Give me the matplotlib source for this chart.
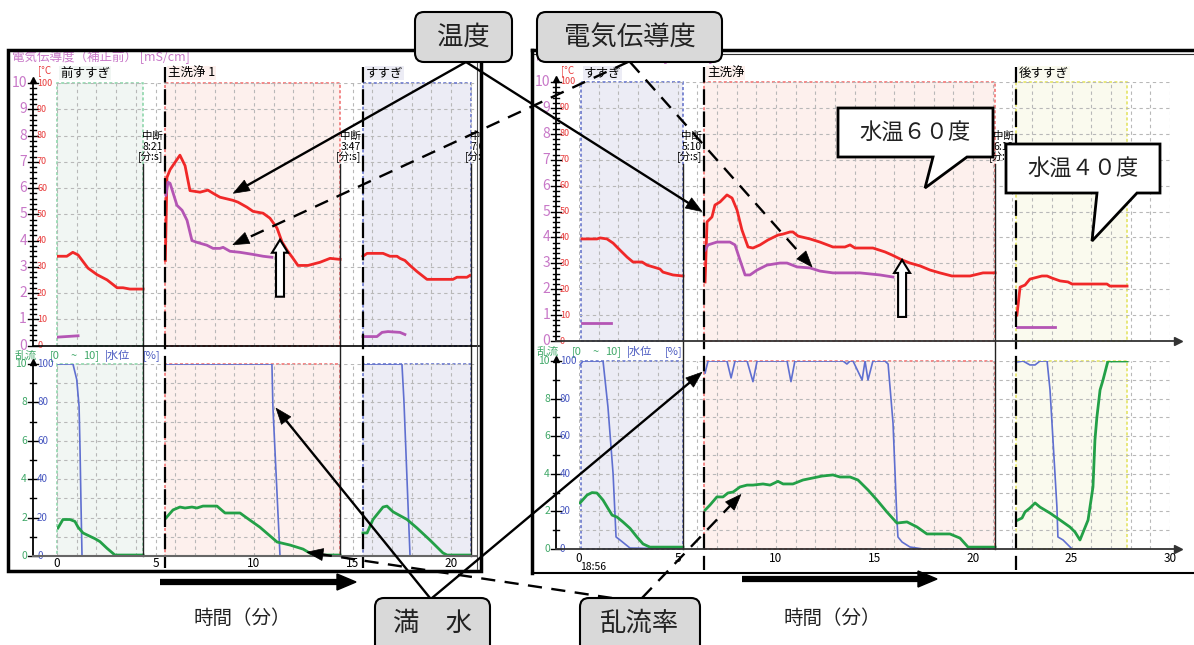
import numpy as np
import matplotlib
matplotlib.use("Agg")
import matplotlib.pyplot as plt
from matplotlib.patches import Rectangle, FancyBboxPatch, Polygon
from matplotlib.transforms import blended_transform_factory as blend

plt.rcParams['font.family'] = ['Noto Sans CJK JP', 'DejaVu Sans']

# ======================= run A (left recorder screen) =======================
A_phase_names = ["前すすぎ", "主洗浄 1", "すすぎ"]
A_phase_kind = ["green", "red", "blue"]
A_phase_start = [0.0, 5.48, 15.53]
A_phase_end = [4.37, 14.37, 21.0]
A_break_times = ["8:21", "3:47", "7:05"]
A_next_start = [5.48, 15.53, 22.1]

# temperature [°C] and conductivity [mS/cm]
A_pre_temp_t = [0.05, 0.5, 0.8, 1.07, 1.57, 2.03, 2.54, 3.05, 3.35, 3.7, 4.37]
A_pre_temp = [34, 34, 35.5, 34.5, 29.5, 27, 25, 22, 22, 21.5, 21.5]
A_pre_cond_t = [0.05, 1.07]
A_pre_cond = [0.32, 0.37]

A_main_temp_t = [5.5, 5.58, 5.74, 6.24, 6.5, 6.75, 7.26, 7.66, 7.92, 8.27, 8.93, 9.19,
                 9.64, 9.95, 10.46, 10.81, 11.17, 11.42, 11.68, 11.98, 12.23, 12.74,
                 13.35, 13.86, 14.37]
A_main_temp = [32.4, 64, 67, 72.5, 68.5, 59, 58.4, 59.2, 58, 56.5, 55.3, 54.6,
               52.7, 51.1, 50.4, 48.5, 44.7, 39.5, 36.3, 33.2, 30.5, 30.5,
               31.7, 33.2, 32.8]
A_main_cond_t = [5.53, 5.63, 5.74, 6.09, 6.35, 6.6, 6.85, 7.1, 7.61, 7.92, 8.27, 8.43,
                 8.78, 9.29, 9.95, 10.46, 10.91]
A_main_cond = [5.73, 6.22, 6.18, 5.34, 5.15, 4.77, 4.0, 3.93, 3.82, 3.7, 3.7, 3.74,
               3.59, 3.55, 3.47, 3.4, 3.36]

A_rin_temp_t = [15.53, 15.74, 16.55, 16.9, 17.26, 17.41, 17.66, 17.92, 18.27, 18.78,
                20.1, 20.3, 20.81, 20.96]
A_rin_temp = [34, 35.1, 35.1, 34, 34, 33.2, 32.4, 30.5, 28.2, 25.2, 25.2, 26, 26, 26.7]
A_rin_cond_t = [15.53, 16.24, 16.5, 16.8, 17.41, 17.66]
A_rin_cond = [0.34, 0.34, 0.5, 0.53, 0.5, 0.42]

# water level [%] and turbulence [0-10]
A_pre_level_t = [0.05, 0.81, 1.0, 1.12, 1.17, 1.22, 1.27, 4.37]
A_pre_level = [100, 100, 92, 78, 55, 26, 0, 0]
A_pre_turb_t = [0.05, 0.3, 0.66, 0.91, 1.07, 1.32, 1.93, 2.18, 2.54, 2.94, 4.37]
A_pre_turb = [1.46, 1.9, 1.9, 1.8, 1.5, 1.2, 0.9, 0.75, 0.4, 0.05, 0.05]

A_main_level_t = [5.5, 10.91, 10.96, 11.32, 14.37]
A_main_level = [100, 100, 77.6, 0, 0]
A_main_turb_t = [5.53, 5.89, 6.24, 6.5, 6.85, 7.1, 7.41, 8.12, 8.53, 9.29, 9.64, 10.3,
                 11.17, 11.83, 12.49, 13.0, 14.37]
A_main_turb = [1.98, 2.4, 2.55, 2.5, 2.55, 2.5, 2.6, 2.6, 2.24, 2.24, 1.98, 1.5,
               0.73, 0.57, 0.36, 0.05, 0.05]

A_rin_level_t = [15.53, 17.51, 17.61, 17.92, 20.96]
A_rin_level = [100, 100, 81, 0, 0]
A_rin_turb_t = [15.53, 15.74, 16.04, 16.55, 16.75, 17.06, 17.77, 18.27, 18.93, 19.59,
                19.8, 20.96]
A_rin_turb = [1.2, 1.2, 1.9, 2.55, 2.6, 2.3, 1.9, 1.46, 0.83, 0.16, 0.05, 0.05]

# ======================= run B (right recorder screen) ======================
B_phase_names = ["すすぎ", "主洗浄", "後すすぎ"]
B_phase_kind = ["blue", "red", "yellow"]
B_phase_start = [0.1, 6.35, 22.18]
B_phase_end = [5.28, 21.12, 27.82]
B_break_times = ["5:10", "6:12"]
B_next_start = [6.35, 22.18]
B_clock = "18:56"

B_rin_temp_t = [0.15, 0.91, 1.07, 1.42, 1.73, 2.08, 2.44, 2.74, 3.2, 3.45, 3.76, 4.11,
                4.26, 4.77, 5.28]
B_rin_temp = [39.4, 39.4, 39.8, 39.4, 37.8, 35.1, 32.4, 30.5, 30.5, 29.3, 28.6, 27.8,
              26.6, 25.5, 25.1]
B_rin_cond_t = [0.15, 1.62]
B_rin_cond = [0.69, 0.69]

B_main_temp_t = [6.4, 6.5, 6.75, 6.9, 7.16, 7.51, 7.77, 8.02, 8.27, 8.58, 8.83, 9.19,
                 9.59, 10.1, 10.36, 10.71, 10.86, 11.12, 11.73, 12.23, 12.89, 13.5,
                 13.76, 14.01, 14.92, 15.53, 15.89, 16.4, 16.8, 17.31, 17.82, 18.32,
                 18.93, 19.85, 20.51, 21.12]
B_main_temp = [22.8, 46, 47.9, 52.5, 53.7, 56.4, 55.2, 50.6, 42.9, 36.3, 35.9, 37.1,
               39, 40.9, 41.3, 42.1, 42.1, 40.5, 39.4, 38.2, 36.3, 36.3,
               37.1, 35.9, 35.9, 34.4, 33.2, 31.3, 30.1, 29, 27.4, 26.3,
               25.1, 25.1, 26.3, 26.3]
B_main_cond_t = [6.4, 6.55, 7.0, 7.66, 7.92, 8.17, 8.43, 8.68, 9.04, 9.54, 10.2, 10.56,
                 11.07, 11.73, 12.23, 12.89, 14.26, 15.28, 15.94]
B_main_cond = [3.51, 3.71, 3.82, 3.82, 3.71, 3.13, 2.55, 2.55, 2.74, 2.93, 3.01, 3.01,
               2.86, 2.82, 2.7, 2.63, 2.63, 2.55, 2.47]

B_aft_temp_t = [22.23, 22.39, 22.64, 22.89, 23.5, 23.76, 24.01, 24.42, 24.82, 25.03,
                26.8, 26.95, 27.82]
B_aft_temp = [10, 20.8, 21.6, 23.9, 25.1, 25.1, 24.3, 23.2, 22.8, 22, 22, 21.2, 21.2]
B_aft_cond_t = [22.23, 24.16]
B_aft_cond = [0.54, 0.54]

B_rin_level_t = [0.05, 0.2, 1.22, 1.47, 1.73, 1.88, 2.08, 2.59, 5.28]
B_rin_level = [97.9, 100, 100, 75.5, 40, 6.4, 4.8, 0.5, 0]
B_rin_turb_t = [0.05, 0.41, 0.66, 0.91, 1.22, 1.68, 1.93, 2.23, 2.59, 2.94, 3.25, 3.6, 5.28]
B_rin_turb = [2.45, 2.87, 3.0, 2.98, 2.6, 1.8, 1.7, 1.44, 1.1, 0.64, 0.27, 0.1, 0.1]

B_main_level_t = [6.4, 6.55, 7.51, 7.72, 7.92, 8.53, 8.83, 9.04, 10.56, 10.76,
                  10.96, 13.4, 13.6, 13.76, 13.91, 14.37, 14.52, 14.67, 14.92, 15.53,
                  15.69, 15.94, 16.14, 16.19, 16.4, 16.8, 17.46, 21.12]
B_main_level = [93.6, 100, 100, 91, 100, 100, 89, 100, 100, 89,
                100, 100, 98.4, 100, 100, 89.9, 100, 89.9, 100, 100,
                98.4, 67, 15.4, 6.4, 3.7, 1.06, 0, 0]
B_main_turb_t = [6.4, 6.65, 7.0, 7.31, 7.56, 7.82, 8.17, 8.53, 8.83, 9.34,
                 9.7, 10.1, 10.36, 10.86, 11.37, 11.88, 12.34, 12.89, 13.25, 13.76,
                 14.16, 14.67, 15.13, 15.63, 16.14, 16.65, 17.16, 17.66, 18.83, 19.34,
                 19.75, 21.12]
B_main_turb = [2.07, 2.34, 2.77, 2.77, 2.98, 3.03, 3.3, 3.4, 3.4, 3.46,
               3.4, 3.6, 3.46, 3.46, 3.67, 3.78, 3.88, 3.94, 3.83, 3.83,
               3.67, 3.14, 2.6, 1.97, 1.38, 1.44, 1.17, 0.8, 0.8, 0.58,
               0.1, 0.1]

B_aft_level_t = [22.28, 22.54, 22.89, 23.15, 23.4, 23.76, 23.91, 24.06, 24.26, 24.31,
                 24.57, 25.03, 27.82]
B_aft_level = [99.5, 100, 97.9, 97.9, 100, 100, 84.6, 58, 22.3, 6.4, 4.8, 0, 0]
B_aft_turb_t = [22.28, 22.49, 22.64, 22.89, 23.15, 23.4, 23.91, 24.42, 24.92, 25.18,
                25.43, 25.84, 26.09, 26.19, 26.29, 26.45, 26.6, 26.85, 27.82]
B_aft_turb = [1.54, 1.65, 1.97, 2.18, 2.45, 2.23, 1.91, 1.54, 1.17, 0.9,
              0.48, 1.54, 3.3, 5.8, 7.02, 8.46, 8.99, 10, 10]

# ======================= styling ============================================
C_TEMP = '#f02828'
C_COND = '#b455b4'
C_LEVEL = '#5f6fd0'
C_TURB = '#23a047'
C_GRID = '#b8b8b8'
C_PINK = '#c878c8'
C_TURB_TXT = '#40a868'
C_LEVEL_TXT = '#4858c0'
PHASE_STYLE = {
    'green': ('#f1f6f3', '#86d3a6'),
    'red': ('#fdf0ed', '#f06a6a'),
    'blue': ('#ececf5', '#5d6cc8'),
    'yellow': ('#fafaee', '#e2e25a'),
}

W, H = 1194, 645
fig = plt.figure(figsize=(W / 100, H / 100), dpi=100)
fig.patch.set_facecolor('white')


def px_axes(left, top, right, bottom):
    return fig.add_axes([left / W, 1 - bottom / H, (right - left) / W, (bottom - top) / H])


PPM = 19.7          # pixels per minute on both recorder screens
A_X0, B_X0 = 57, 579
A_XMAX, B_XMAX = 21.2, 30.0

axA_top = px_axes(A_X0, 83, A_X0 + PPM * A_XMAX, 345.5)
axA_bot = px_axes(A_X0, 364, A_X0 + PPM * A_XMAX, 556)
axB_top = px_axes(B_X0, 82, B_X0 + PPM * B_XMAX, 341)
axB_bot = px_axes(B_X0, 361, B_X0 + PPM * B_XMAX, 549)

ov = fig.add_axes([0, 0, 1, 1])
ov.set_zorder(10)
ov.set_xlim(0, W)
ov.set_ylim(H, 0)
ov.axis('off')
ov.patch.set_visible(False)


def setup(ax, xmax, show_labels, pad):
    ax.set_xlim(0, xmax)
    ax.set_ylim(0, 100)
    ax.patch.set_visible(False)
    for s in ax.spines.values():
        s.set_visible(False)
    major = np.arange(0, xmax + 0.01, 5)
    ax.set_xticks(major)
    ax.set_xticklabels([f"{int(v)}" for v in major])
    ax.set_xticks(np.arange(0, xmax + 0.01, 1), minor=True)
    ax.set_yticks(np.arange(0, 101, 10))
    ax.tick_params(axis='both', which='both', length=0)
    ax.tick_params(axis='y', labelleft=False)
    ax.tick_params(axis='x', labelbottom=show_labels, pad=pad, labelsize=8.5)
    ax.grid(True, which='both', color=C_GRID, lw=0.8, ls=(0, (3, 3)))
    ax.set_axisbelow(True)
    tw = ax.twinx()
    tw.set_ylim(0, 10)
    tw.set_yticks([])
    for s in tw.spines.values():
        s.set_visible(False)
    return tw


twA_top = setup(axA_top, A_XMAX, False, 0)
twA_bot = setup(axA_bot, A_XMAX, True, 0.5)
twB_top = setup(axB_top, B_XMAX, False, 0)
twB_bot = setup(axB_bot, B_XMAX, True, 2.0)


def phases(axes, starts, ends, kinds):
    for ax in axes:
        for t0, t1, k in zip(starts, ends, kinds):
            fc, ec = PHASE_STYLE[k]
            ax.add_patch(Rectangle((t0, 0), t1 - t0, 100, facecolor=fc, edgecolor=ec,
                                   lw=1.1, ls=(0, (2, 1.5)), zorder=0.2, clip_on=False))


phases([axA_top, axA_bot], A_phase_start, A_phase_end, A_phase_kind)
phases([axB_top, axB_bot], B_phase_start, B_phase_end, B_phase_kind)

# ----- traces -----
for t, v in [(A_pre_temp_t, A_pre_temp), (A_main_temp_t, A_main_temp), (A_rin_temp_t, A_rin_temp)]:
    axA_top.plot(t, v, color=C_TEMP, lw=2)
for t, v in [(A_pre_cond_t, A_pre_cond), (A_main_cond_t, A_main_cond), (A_rin_cond_t, A_rin_cond)]:
    twA_top.plot(t, v, color=C_COND, lw=2)
for t, v in [(A_pre_level_t, A_pre_level), (A_main_level_t, A_main_level), (A_rin_level_t, A_rin_level)]:
    axA_bot.plot(t, v, color=C_LEVEL, lw=1.2)
for t, v in [(A_pre_turb_t, A_pre_turb), (A_main_turb_t, A_main_turb), (A_rin_turb_t, A_rin_turb)]:
    twA_bot.plot(t, v, color=C_TURB, lw=2)

for t, v in [(B_rin_temp_t, B_rin_temp), (B_main_temp_t, B_main_temp), (B_aft_temp_t, B_aft_temp)]:
    axB_top.plot(t, v, color=C_TEMP, lw=2)
for t, v in [(B_rin_cond_t, B_rin_cond), (B_main_cond_t, B_main_cond), (B_aft_cond_t, B_aft_cond)]:
    twB_top.plot(t, v, color=C_COND, lw=2)
for t, v in [(B_rin_level_t, B_rin_level), (B_main_level_t, B_main_level), (B_aft_level_t, B_aft_level)]:
    axB_bot.plot(t, v, color=C_LEVEL, lw=1.2)
for t, v in [(B_rin_turb_t, B_rin_turb), (B_main_turb_t, B_main_turb), (B_aft_turb_t, B_aft_turb)]:
    twB_bot.plot(t, v, color=C_TURB, lw=2)


# ----- vertical scales drawn beside the plots -----
def y_scale(ax, tw, spine_x, big_step, big_color, big_size, small_step, small_color,
            small_size, minor_step, major_step):
    tr = blend(ov.transData, ax.transData)
    trt = blend(ov.transData, tw.transData)
    ov.plot([spine_x, spine_x], [0, 100.5], transform=tr, color='k', lw=1.3,
            clip_on=False, zorder=4)
    ov.plot([spine_x], [101.2], marker='^', ms=5, color='k', transform=tr,
            clip_on=False, zorder=4)
    for v in np.arange(0, 101, minor_step):
        half = 5 if v % major_step == 0 else 3
        ov.plot([spine_x - half, spine_x + half], [v, v], transform=tr, color='k',
                lw=1, clip_on=False, zorder=4)
    for v in np.arange(0, 10.01, big_step):
        ov.text(spine_x - 6, v, f"{int(v)}", transform=trt, ha='right', va='center',
                color=big_color, fontsize=big_size, zorder=4)
    for v in np.arange(0, 101, small_step):
        ov.text(spine_x + 4, v, f"{int(v)}", transform=tr, ha='left', va='center',
                color=small_color, fontsize=small_size, zorder=4)


y_scale(axA_top, twA_top, 33, 1, C_PINK, 10, 10, '#e83c3c', 6.5, 2, 10)
y_scale(axA_bot, twA_bot, 33, 2, C_TURB_TXT, 7.5, 20, C_LEVEL_TXT, 7, 10, 20)
y_scale(axB_top, twB_top, 556, 1, C_PINK, 10, 10, '#e83c3c', 6.5, 2, 10)
y_scale(axB_bot, twB_bot, 556, 2, C_TURB_TXT, 7.5, 20, C_LEVEL_TXT, 7, 10, 20)


# ----- phase labels, break markers -----
def decorate(ax_top, names, kinds, starts, breaks, next_start, solid_ends, y_bottom,
             dash_end):
    trx = blend(ax_top.transData, ov.transData)
    for name, k, t0 in zip(names, kinds, starts):
        ov.annotate(name, xy=(t0, 73), xycoords=trx, xytext=(3, 0),
                    textcoords='offset pixels', ha='left', va='center', fontsize=9,
                    color='k', zorder=2,
                    bbox=dict(fc=PHASE_STYLE[k][0], ec='none', pad=0.6))
    for t0 in starts[1:]:
        ov.plot([t0, t0], [67, dash_end], transform=trx, color='k', lw=1.6,
                ls=(0, (7, 3)), zorder=4)
    for tb in solid_ends:
        ov.plot([tb, tb], [164, y_bottom], transform=trx, color='#222222', lw=1.0, zorder=2)
    for tm, tn in zip(breaks, next_start):
        for dy, s in [(136, "中断"), (147, tm), (157, "[分:s]")]:
            ov.annotate(s, xy=(tn, dy), xycoords=trx, xytext=(-2, 0),
                        textcoords='offset pixels', ha='right', va='center',
                        fontsize=7.5, color='k', zorder=2)


decorate(axA_top, A_phase_names, A_phase_kind, A_phase_start, A_break_times,
         A_next_start, A_phase_end, 556, 568)
decorate(axB_top, B_phase_names, B_phase_kind, B_phase_start, B_break_times,
         B_next_start, B_phase_end[:2], 549, 570)

# header texts
for x, y in [(12, 57), (535, 57)]:
    ov.text(x, y, "電気伝導度（補正前） [mS/cm]", fontsize=9, color=C_PINK,
            ha='left', va='center', zorder=1)
for x, y in [(38, 71), (561, 71)]:
    ov.text(x, y, "[°C", fontsize=7, color='#e83c3c', ha='left', va='center', zorder=1)
TITLE_PIECES = [(0, "乱流", C_TURB_TXT), (35, "[0", C_TURB_TXT), (56, "~", C_TURB_TXT),
                (68, "10]", C_TURB_TXT), (90, "|水位", C_LEVEL_TXT), (128, "[%]", C_LEVEL_TXT)]
for x, y in [(15, 356), (537, 352)]:
    for dx, s, c in TITLE_PIECES:
        ov.text(x + dx, y, s, fontsize=8, color=c, ha='left', va='center', zorder=2)
ov.text(580, 567, B_clock, fontsize=7.5, color='k', ha='left', va='center', zorder=2)

# white gap between the two screens
ov.add_patch(Rectangle((482.5, 44), 48.5, 540, fc='white', ec='none', zorder=3))

# ----- screen frames and time axes -----
ov.add_patch(Rectangle((8, 50), 473, 521, fill=False, ec='k', lw=2.5, zorder=5))
ov.plot([477, 477], [52, 569], color='#555555', lw=0.8, zorder=5)
ov.plot([532, 1194], [50, 50], color='k', lw=2.5, zorder=5)
ov.plot([534, 1194], [54, 54], color='#333333', lw=0.8, zorder=5)
ov.plot([532, 532], [50, 573], color='k', lw=2.5, zorder=5)
ov.plot([532, 1194], [573, 573], color='k', lw=1.5, zorder=5)

trA_t = blend(ov.transData, axA_top.transData)
trA_b = blend(ov.transData, axA_bot.transData)
trB_t = blend(ov.transData, axB_top.transData)
trB_b = blend(ov.transData, axB_bot.transData)
ov.plot([33, 479], [0, 0], transform=trA_t, color='k', lw=1.2, zorder=4)
ov.plot([33, 477], [0, 0], transform=trA_b, color='#666666', lw=1.5, zorder=4)
for tr in (trB_t, trB_b):
    ov.plot([556, 1176], [0, 0], transform=tr, color='#333333', lw=1.3, zorder=4)
    ov.plot([1178], [0], marker='>', ms=6, color='#333333', transform=tr, zorder=4)


# ----- explanatory overlay -----
def to_ov(ax, x, y):
    return ov.transData.inverted().transform(ax.transData.transform((x, y)))


def arrow(p0, p1, dashed=False, head_len=16, head_w=12, lw=1.7):
    p0 = np.asarray(p0, float)
    p1 = np.asarray(p1, float)
    d = p1 - p0
    u = d / np.hypot(*d)
    n = np.array([-u[1], u[0]])
    base = p1 - u * head_len
    ov.plot([p0[0], base[0] + u[0] * 2], [p0[1], base[1] + u[1] * 2], color='k', lw=lw,
            ls=(0, (6, 4)) if dashed else '-', zorder=20, solid_capstyle='butt')
    ov.add_patch(Polygon([p1, base + n * head_w / 2, base - n * head_w / 2], closed=True,
                         fc='k', ec='k', lw=0.5, zorder=21))


def label_box(x, y, w, h, text, size):
    ov.add_patch(FancyBboxPatch((x, y), w, h, boxstyle='round,pad=0,rounding_size=9',
                                fc='#d9d9d9', ec='k', lw=1.5, zorder=22, clip_on=False))
    ov.text(x + w / 2, y + 25, text, fontsize=size, ha='center', va='center',
            color='#222222', zorder=23)


label_box(415, 12, 97, 50, "温度", 19)
label_box(537, 12, 185, 50, "電気伝導度", 19)
label_box(375, 598, 115, 60, "満　水", 19)
label_box(580, 598, 120, 60, "乱流率", 19)

arrow((466, 62), to_ov(axA_top, 8.95, 58))
arrow((466, 62), to_ov(axB_top, 6.24, 50))
arrow((628, 62), to_ov(twA_top, 8.93, 3.84), dashed=True)
arrow((630, 62), to_ov(twB_top, 11.83, 2.86), dashed=True)
arrow((430, 598), to_ov(axA_bot, 11.12, 77))
arrow((432, 598), to_ov(axB_bot, 6.24, 94))
arrow((612, 598), to_ov(twA_bot, 12.69, 0.2), dashed=True)
arrow((642, 598), to_ov(twB_bot, 8.22, 2.9), dashed=True)


def hollow_up_arrow(tip):
    x, y = tip
    pts = [(x, y), (x + 8, y + 13), (x + 4, y + 13), (x + 4, y + 57), (x - 4, y + 57),
           (x - 4, y + 13), (x - 8, y + 13)]
    ov.add_patch(Polygon(pts, closed=True, fc='white', ec='k', lw=1.5, zorder=20))


hollow_up_arrow(to_ov(axA_top, 11.32, 40.3))
hollow_up_arrow(to_ov(axB_top, 16.4, 31.3))


def callout(x0, y0, x1, y1, tail, text):
    pts = [(x0, y0), (x1, y0), (x1, y1), (tail[2], y1), (tail[1][0], tail[1][1]),
           (tail[0], y1), (x0, y1)]
    ov.add_patch(Polygon(pts, closed=True, fc='white', ec='k', lw=2, zorder=20,
                         joinstyle='miter'))
    ov.text((x0 + x1) / 2, (y0 + y1) / 2, text, fontsize=16, ha='center', va='center',
            color='#222222', zorder=21)


callout(838, 108, 993, 157, (933, (925, 188), 967), "水温６０度")
callout(1006, 144, 1160, 193, (1097, (1092, 241), 1137), "水温４０度")


def fat_arrow(x0, x1, y):
    ov.plot([x0, x1 - 17], [y, y], color='k', lw=4.5, solid_capstyle='butt', zorder=20)
    ov.add_patch(Polygon([(x1, y), (x1 - 19, y - 8), (x1 - 19, y + 8)], closed=True,
                         fc='k', ec='k', zorder=20))


fat_arrow(160, 356, 582)
fat_arrow(742, 937, 579)
ov.text(242, 618, "時間（分）", fontsize=14, ha='center', va='center', color='#222222',
        zorder=20)
ov.text(832, 618, "時間（分）", fontsize=14, ha='center', va='center', color='#222222',
        zorder=20)

fig.savefig("out.png", dpi=100, facecolor='white')
